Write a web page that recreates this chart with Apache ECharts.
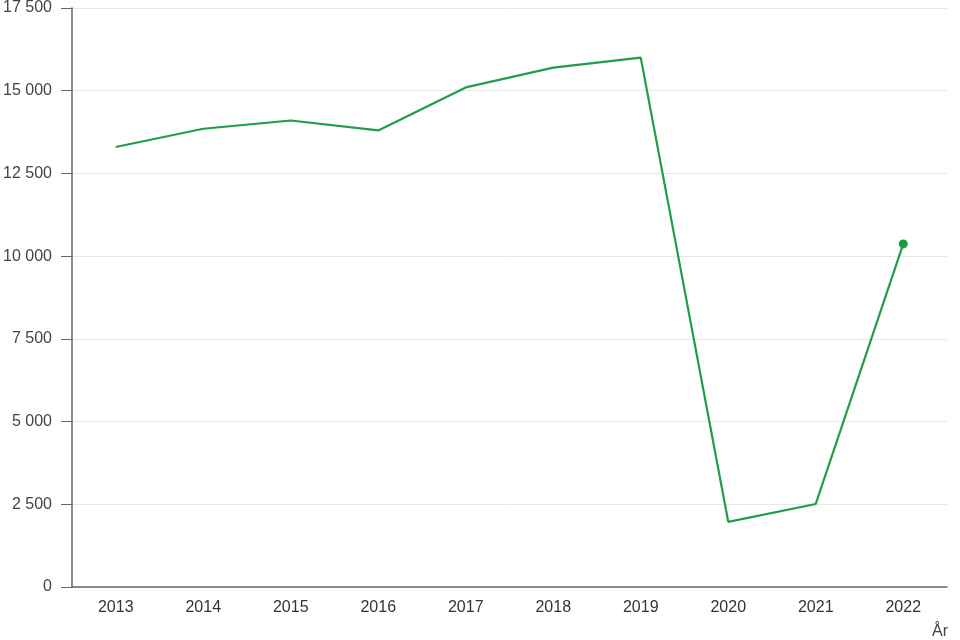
<!DOCTYPE html>
<html>
<head>
<meta charset="utf-8">
<script src="https://cdn.jsdelivr.net/npm/echarts@6/dist/echarts.min.js"></script>
<style>html,body{margin:0;padding:0;background:#fff}#c{width:960px;height:640px}</style>
</head>
<body>
<div id="c"></div>
<script>
const categories = ['2013','2014','2015','2016','2017','2018','2019','2020','2021','2022'];
const values = [13300, 13850, 14100, 13800, 15100, 15700, 16000, 1970, 2510, 10370];
const yTicks = [0, 2500, 5000, 7500, 10000, 12500, 15000, 17500];

const chart = echarts.init(document.getElementById('c'));
const fmt = v => String(v).replace(/\B(?=(\d{3})+(?!\d))/g, ' ');
const data = values.map((v, i) => i === values.length - 1
  ? { value: v, symbol: 'circle', symbolSize: 9 }
  : { value: v });

chart.setOption({
  animation: false,
  textStyle: { fontFamily: 'Arial, "Liberation Sans", sans-serif' },
  grid: { left: 72, right: 13, top: 7.5, bottom: 52.5, containLabel: false },
  xAxis: {
    type: 'category',
    data: categories,
    boundaryGap: true,
    name: 'År',
    nameLocation: 'end',
    nameGap: 0,
    nameTextStyle: { color: '#444', fontSize: 16, align: 'right', verticalAlign: 'top', padding: [37, -1, 0, 0] },
    axisLine: { lineStyle: { color: '#666', width: 1.5 } },
    axisTick: { alignWithLabel: true, length: 10, lineStyle: { color: '#666' } },
    axisLabel: { color: '#333', fontSize: 16, margin: 13 },
    splitLine: { show: false }
  },
  yAxis: {
    type: 'value',
    min: yTicks[0],
    max: yTicks[yTicks.length - 1],
    interval: 2500,
    axisLine: { show: true, lineStyle: { color: '#666', width: 1.5 } },
    axisTick: { show: true, length: 11, lineStyle: { color: '#666' } },
    axisLabel: { color: '#444', fontSize: 16, margin: 20, formatter: v => fmt(v) },
    splitLine: { lineStyle: { color: '#e8e8e8' } }
  },
  series: [{
    type: 'line',
    data: data,
    symbol: 'none',
    lineStyle: { color: '#1f9e48', width: 2.2 },
    itemStyle: { color: '#1a9a44' }
  }]
});
</script>
</body>
</html>
